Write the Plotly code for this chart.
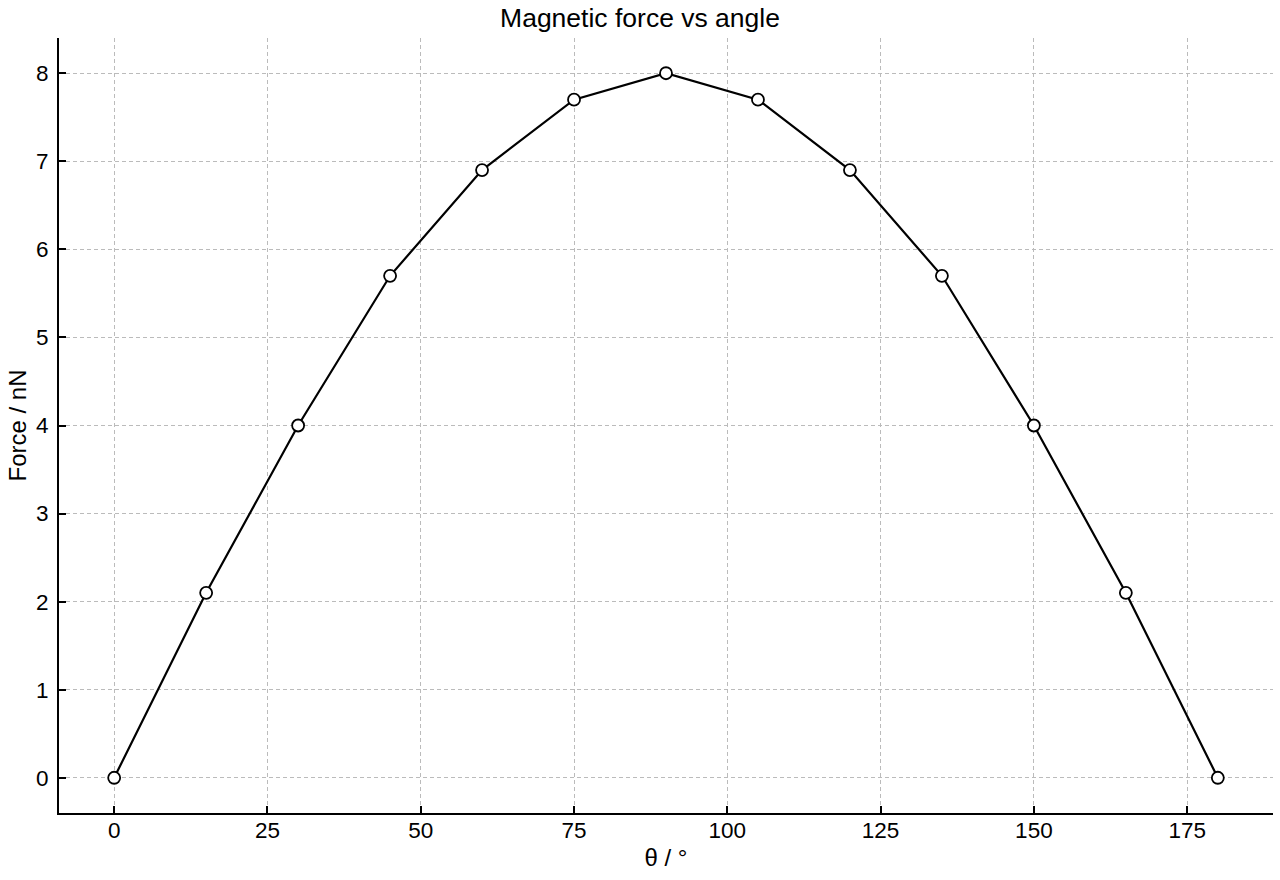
import plotly.graph_objects as go

# Ángulos y fuerza medida
angle_deg = [0, 15, 30, 45, 60, 75, 90, 105, 120, 135, 150, 165, 180]
force_nN = [0, 2.1, 4.0, 5.7, 6.9, 7.7, 8.0, 7.7, 6.9, 5.7, 4.0, 2.1, 0]

x_ticks = [0, 25, 50, 75, 100, 125, 150, 175]
y_ticks = [0, 1, 2, 3, 4, 5, 6, 7, 8]

fig = go.Figure()

fig.add_trace(go.Scatter(
    x=angle_deg,
    y=force_nN,
    mode="lines+markers",
    line=dict(color="black", width=2.2),
    marker=dict(size=12, color="white", line=dict(color="black", width=1.8)),
    showlegend=False,
))

axis_style = dict(
    showline=True, linecolor="black", linewidth=2,
    ticks="inside", ticklen=7, tickwidth=1.8, tickcolor="black",
    showgrid=True, gridcolor="#bbbbbb", gridwidth=1, griddash="4px,3px",
    zeroline=False, mirror=False,
    tickfont=dict(size=22.5, color="black"),
)

fig.update_layout(
    title=dict(text="Magnetic force vs angle", x=0.5, xanchor="center",
               y=0.98, yanchor="middle", font=dict(size=26.5, color="black")),
    font=dict(family="Liberation Sans, Arial, sans-serif", color="black"),
    xaxis=dict(axis_style, range=[-9, 189], tickvals=x_ticks, ticklabelstandoff=-4,
               title=dict(text="θ / °", font=dict(size=24), standoff=7)),
    yaxis=dict(axis_style, range=[-0.4, 8.4], tickvals=y_ticks, ticklabelstandoff=4,
               title=dict(text="Force / nN", font=dict(size=24), standoff=3)),
    plot_bgcolor="white",
    paper_bgcolor="white",
    width=1280,
    height=880,
    margin=dict(l=59, r=7, t=38, b=67),
)

# quitar el margen del body para que la figura ocupe la ventana entera
fig.write_html("out.html", config={"displayModeBar": False},
               post_script="document.body.style.margin='0';")
